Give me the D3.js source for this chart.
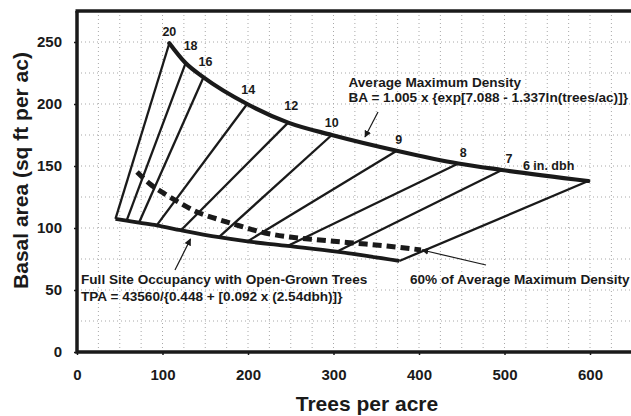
<!DOCTYPE html>
<html>
<head>
<meta charset="utf-8">
<script src="https://cdn.jsdelivr.net/npm/d3@7"></script>
<style>
  body { margin: 0; background: #fff; }
  svg text { font-family: "Liberation Sans", Arial, sans-serif; font-weight: bold; fill: #1a1a1a; }
</style>
</head>
<body>
<svg width="631" height="416"></svg>
<script>
// dbh classes, labelled along the max density curve
const dbhLabels = ["20", "18", "16", "14", "12", "10", "9", "8", "7", "6 in. dbh"];
// average maximum density (upper curve)
const maxTpa = [108, 127, 148, 199, 247, 298, 374, 446, 497, 598];
const maxBa = [249, 233, 221.5, 200, 185, 175, 162.3, 152, 146.8, 137.9];
// full site occupancy with open-grown trees (lower curve)
const openTpa = [45, 58, 72.5, 93.2, 121.6, 166, 199.4, 246.2, 303.7, 377];
const openBa = [107.3, 105.9, 104.3, 102.1, 98.2, 92.6, 89.2, 85.5, 80.9, 73.4];
// 60% of average maximum density (dashed)
const relTpa = [70.2, 85.4, 102.9, 120.5, 140.4, 163.7, 190.6, 219.9, 249.1, 284.2, 322.8, 362.6, 402.3];
const relBa = [145.2, 135.5, 127.4, 120.2, 112.9, 107.3, 101.6, 96, 92.7, 90.3, 87.9, 85.5, 82.3];

const xTicks = [0, 100, 200, 300, 400, 500, 600];
const yTicks = [0, 50, 100, 150, 200, 250];

const svg = d3.select("svg");
const x = d3.scaleLinear().domain([0, 650]).range([77, 632.75]);
const y = d3.scaleLinear().domain([0, 275]).range([352, 11]);

// dotted background grid
const grid = svg.append("g").attr("stroke", "#a8a8a8").attr("stroke-width", 1).attr("stroke-dasharray", "1,3");
grid.selectAll("line.v").data(d3.range(25, 650, 25)).enter().append("line")
  .attr("x1", d => x(d)).attr("x2", d => x(d)).attr("y1", y(0)).attr("y2", y(275));
grid.selectAll("line.h").data(d3.range(25, 275, 25)).enter().append("line")
  .attr("x1", x(0)).attr("x2", x(650)).attr("y1", d => y(d)).attr("y2", d => y(d));

// axes
const xAxis = svg.append("g").attr("transform", `translate(0,${y(0)})`)
  .call(d3.axisBottom(x).tickValues(xTicks).tickSize(3).tickPadding(14));
const yAxis = svg.append("g").attr("transform", `translate(${x(0)},0)`)
  .call(d3.axisLeft(y).tickValues(yTicks).tickSize(3).tickPadding(12));
[xAxis, yAxis].forEach(a => {
  a.select(".domain").remove();
  a.selectAll("line").attr("stroke", "#1a1a1a").attr("stroke-width", 1.5);
  a.selectAll("text").style("font-size", "15px").attr("fill", "#1a1a1a");
});
xAxis.selectAll("text").attr("dy", "0.71em");

// frame: left, bottom, top
svg.append("path")
  .attr("d", `M${x(0)},${y(275)}L${x(0)},${y(0)}L631,${y(0)}`)
  .attr("fill", "none").attr("stroke", "#1a1a1a").attr("stroke-width", 3.5);
svg.append("line")
  .attr("x1", x(0) - 1.5).attr("x2", 631).attr("y1", y(275)).attr("y2", y(275))
  .attr("stroke", "#1a1a1a").attr("stroke-width", 3.5);

// dbh lines connecting the two curves
svg.append("g").selectAll("line").data(dbhLabels).enter().append("line")
  .attr("x1", (d, i) => x(maxTpa[i])).attr("y1", (d, i) => y(maxBa[i]))
  .attr("x2", (d, i) => x(openTpa[i])).attr("y2", (d, i) => y(openBa[i]))
  .attr("stroke", "#1a1a1a").attr("stroke-width", 2.3);

const line = d3.line().x(d => x(d[0])).y(d => y(d[1])).curve(d3.curveMonotoneX);

svg.append("path")
  .attr("d", line(relTpa.map((t, i) => [t, relBa[i]])))
  .attr("fill", "none").attr("stroke", "#1a1a1a").attr("stroke-width", 5)
  .attr("stroke-dasharray", "9,5");

svg.append("path")
  .attr("d", line(openTpa.map((t, i) => [t, openBa[i]])))
  .attr("fill", "none").attr("stroke", "#1a1a1a").attr("stroke-width", 3.8)
  .attr("stroke-linejoin", "round");

svg.append("path")
  .attr("d", line(maxTpa.map((t, i) => [t, maxBa[i]])))
  .attr("fill", "none").attr("stroke", "#1a1a1a").attr("stroke-width", 4.2)
  .attr("stroke-linecap", "round");

// dbh labels
const labelOffsets = [[0, -12], [5, -17], [2, -16], [1, -14], [3, -17], [0, -12], [2, -11], [5, -11], [7, -11], [-14, -15]];
svg.append("g").selectAll("text").data(dbhLabels).enter().append("text")
  .attr("x", (d, i) => x(maxTpa[i]) + labelOffsets[i][0])
  .attr("y", (d, i) => y(maxBa[i]) + labelOffsets[i][1])
  .attr("dy", "0.35em")
  .attr("text-anchor", (d, i) => i === dbhLabels.length - 1 ? "end" : "middle")
  .style("font-size", "12.5px")
  .text(d => d);

// arrows
svg.append("defs").append("marker")
  .attr("id", "head").attr("viewBox", "0 0 10 10").attr("refX", 9).attr("refY", 5)
  .attr("markerWidth", 7).attr("markerHeight", 7).attr("markerUnits", "userSpaceOnUse")
  .attr("orient", "auto")
  .append("path").attr("d", "M0,0L10,5L0,10z").attr("fill", "#1a1a1a");

const arrows = [
  [378, 112, 365, 137],
  [175, 270, 190.5, 239],
  [486, 265, 422, 250]
];
svg.append("g").selectAll("line").data(arrows).enter().append("line")
  .attr("x1", d => d[0]).attr("y1", d => d[1]).attr("x2", d => d[2]).attr("y2", d => d[3])
  .attr("stroke", "#1a1a1a").attr("stroke-width", 1.2).attr("marker-end", "url(#head)");

// annotations
function note(lines, xp, yp, lh, size) {
  const t = svg.append("text").attr("x", xp).attr("y", yp).style("font-size", size);
  lines.forEach((s, i) => t.append("tspan").attr("x", xp).attr("dy", i ? lh : 0).text(s));
}
note(["Average Maximum Density", "BA = 1.005 x {exp[7.088 - 1.337ln(trees/ac)]}"], 348.5, 87.3, 14.5, "13.6px");
note(["Full Site Occupancy with Open-Grown Trees", "TPA = 43560/{0.448 + [0.092 x (2.54dbh)]}"], 81, 284, 16.5, "13.6px");
note(["60% of Average Maximum Density"], 410, 284, 0, "13.6px");

// axis titles
svg.append("text").attr("x", 367).attr("y", 410.7).attr("text-anchor", "middle")
  .style("font-size", "21px").text("Trees per acre");
svg.append("text").attr("transform", "translate(28,170.5) rotate(-90)").attr("text-anchor", "middle")
  .style("font-size", "21px").text("Basal area (sq ft per ac)");
</script>
</body>
</html>
